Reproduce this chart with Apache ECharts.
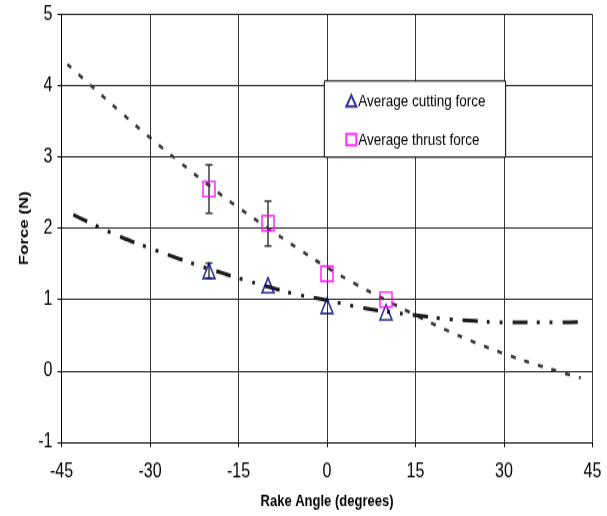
<!DOCTYPE html>
<html>
<head>
<meta charset="utf-8">
<title>Force vs Rake Angle</title>
<script src="https://cdn.jsdelivr.net/npm/echarts@6/dist/echarts.min.js"></script>
<style>
  html, body { margin: 0; padding: 0; background: #fff; overflow: hidden; }
  #wrap { width: 607px; height: 516px; overflow: hidden; }
  /* the chart is laid out at 413px tall and stretched to 516px */
  #chart { width: 607px; height: 413px; transform: scaleY(1.2494); transform-origin: 0 0; }
</style>
</head>
<body>
<div id="wrap"><div id="chart"></div></div>
<script>
// Measured rake angles (degrees) and average forces (N)
const angles = [-20, -10, 0, 10];
const cuttingForce = [1.40, 1.20, 0.91, 0.82];
const thrustForce = [2.55, 2.07, 1.36, 1.00];

// Error bar limits (null = no bar drawn)
const cuttingLow = [1.30, null, null, null];
const cuttingHigh = [1.51, null, null, null];
const thrustLow = [2.21, 1.75, null, null];
const thrustHigh = [2.89, 2.38, null, null];

// Trend lines
const thrustTrendX = [-44, -40, -35, -30, -25, -20, -15, -10, -5, 0, 5, 10, 15, 20, 25, 30, 35, 40, 43];
const thrustTrendY = [4.30, 4.00, 3.63, 3.27, 2.93, 2.60, 2.29, 2.00, 1.72, 1.45, 1.21, 0.99, 0.78, 0.58, 0.40, 0.24, 0.10, -0.03, -0.10];
const cuttingTrendX = [-43, -40, -35, -30, -25, -20, -15, -10, -5, 0, 5, 10, 15, 20, 25, 30, 35, 40, 44];
const cuttingTrendY = [2.19, 2.07, 1.88, 1.72, 1.57, 1.43, 1.30, 1.18, 1.07, 0.99, 0.90, 0.83, 0.78, 0.73, 0.70, 0.68, 0.68, 0.68, 0.69];

// Axis ticks
const xTicks = { min: -45, max: 45, step: 15 };
const yTicks = { min: -1, max: 5, step: 1 };

const FONT = "'Liberation Sans', Arial, sans-serif";

const zip = (xs, ys) => xs.map((x, i) => [x, ys[i]]);
const errorData = (lo, hi) => angles
  .map((x, i) => [x, lo[i], hi[i]])
  .filter(d => d[1] != null && d[2] != null);

function errorBar(params, api) {
  const x = api.value(0);
  const top = api.coord([x, api.value(2)]);
  const bot = api.coord([x, api.value(1)]);
  const w = 3.5;
  const style = { stroke: '#3a3a3a', lineWidth: 1.5, fill: null };
  return {
    type: 'group',
    children: [
      { type: 'line', shape: { x1: top[0], y1: top[1], x2: bot[0], y2: bot[1] }, style },
      { type: 'line', shape: { x1: top[0] - w, y1: top[1], x2: top[0] + w, y2: top[1] }, style },
      { type: 'line', shape: { x1: bot[0] - w, y1: bot[1], x2: bot[0] + w, y2: bot[1] }, style }
    ]
  };
}

const chart = echarts.init(document.getElementById('chart'), null, { renderer: 'canvas' });

chart.setOption({
  animation: false,
  backgroundColor: '#fff',
  textStyle: { fontFamily: FONT },
  grid: { left: 61.5, right: 14.5, top: 11.5, bottom: 59.2, containLabel: false },
  xAxis: {
    type: 'value',
    min: xTicks.min, max: xTicks.max, interval: xTicks.step,
    name: 'Rake Angle (degrees)',
    nameLocation: 'middle', nameGap: 41,
    nameMoveOverlap: false,
    nameTextStyle: { fontFamily: FONT, fontSize: 13, fontWeight: 'bold', color: '#000' },
    axisLine: { onZero: false, lineStyle: { color: '#000', width: 1 } },
    axisTick: { show: true, inside: false, length: 4, lineStyle: { color: '#000' } },
    axisLabel: { fontFamily: FONT, fontSize: 16, color: '#000', margin: 15.5 },
    splitLine: { show: true, lineStyle: { color: '#333', width: 1 } }
  },
  yAxis: {
    type: 'value',
    min: yTicks.min, max: yTicks.max, interval: yTicks.step,
    name: 'Force (N)',
    nameLocation: 'middle', nameGap: 30, nameRotate: 90,
    nameMoveOverlap: false,
    nameTextStyle: { fontFamily: FONT, fontSize: 13.5, fontWeight: 'bold', color: '#000' },
    axisLine: { show: true, onZero: false, lineStyle: { color: '#000', width: 1 } },
    axisTick: { show: true, inside: false, length: 4, lineStyle: { color: '#000' } },
    axisLabel: { fontFamily: FONT, fontSize: 16, color: '#000', margin: 9 },
    splitLine: { show: true, lineStyle: { color: '#222', width: 1 } }
  },
  legend: {
    orient: 'vertical',
    left: 324.3, top: 64.8,
    padding: [9, 20, 7, 21],
    itemGap: 17,
    itemWidth: 10, itemHeight: 9,
    backgroundColor: '#fff',
    borderColor: '#000', borderWidth: 1, borderRadius: 0,
    textStyle: { fontFamily: FONT, fontSize: 13.5, color: '#000', padding: [0, 0, 0, -3] },
    data: ['Average cutting force', 'Average thrust force']
  },
  series: [
    {
      name: 'Thrust trend',
      type: 'line',
      data: zip(thrustTrendX, thrustTrendY),
      smooth: true,
      showSymbol: false,
      silent: true,
      lineStyle: { color: '#3a3a3a', width: 2.6, type: [5, 9] },
      z: 2
    },
    {
      name: 'Cutting trend',
      type: 'line',
      data: zip(cuttingTrendX, cuttingTrendY),
      smooth: true,
      showSymbol: false,
      silent: true,
      lineStyle: { color: '#1a1a1a', width: 3, type: [15, 9, 3, 10, 3, 10] },
      z: 2
    },
    {
      name: 'Thrust error',
      type: 'custom',
      renderItem: errorBar,
      data: errorData(thrustLow, thrustHigh),
      encode: { x: 0, y: [1, 2] },
      silent: true,
      z: 3
    },
    {
      name: 'Cutting error',
      type: 'custom',
      renderItem: errorBar,
      data: errorData(cuttingLow, cuttingHigh),
      encode: { x: 0, y: [1, 2] },
      silent: true,
      z: 3
    },
    {
      name: 'Average cutting force',
      type: 'scatter',
      data: zip(angles, cuttingForce),
      symbol: 'triangle',
      symbolSize: [12, 12],
      itemStyle: { color: 'rgba(255,255,255,0)', borderColor: '#000080', borderWidth: 1.6 },
      z: 4
    },
    {
      name: 'Average thrust force',
      type: 'scatter',
      data: zip(angles, thrustForce),
      symbol: 'rect',
      symbolSize: [12, 12],
      itemStyle: { color: 'rgba(255,255,255,0)', borderColor: '#ff00ff', borderWidth: 1.6 },
      z: 4
    }
  ]
});
</script>
</body>
</html>
